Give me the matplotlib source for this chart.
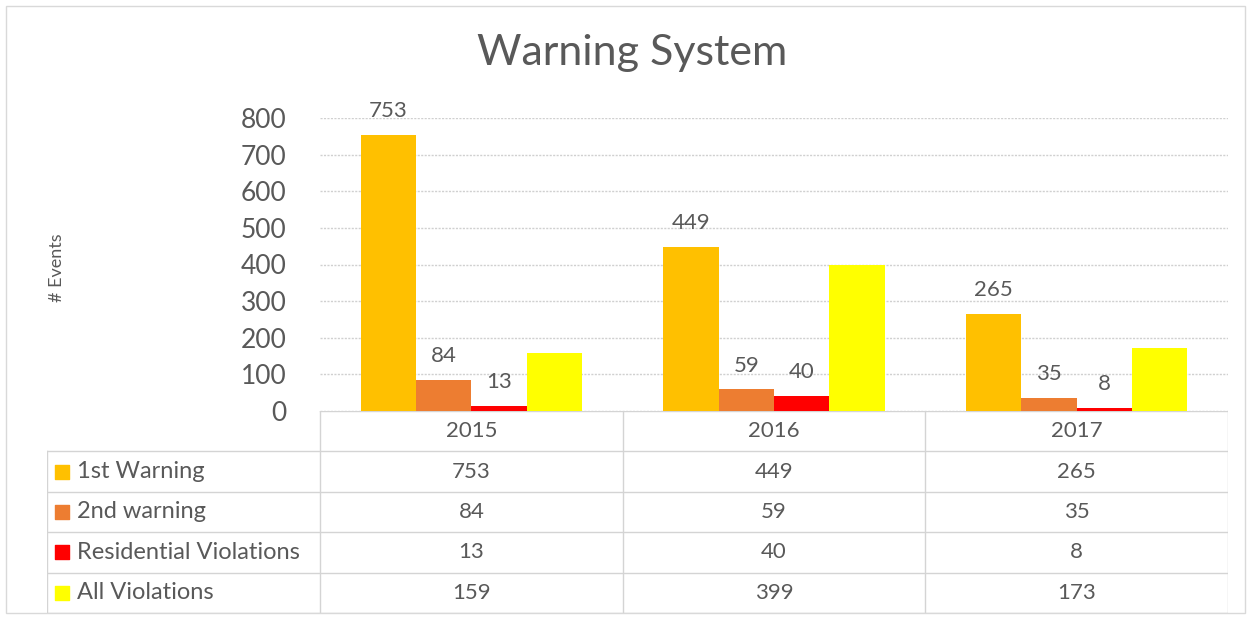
import numpy as np
import matplotlib.pyplot as plt

plt.rcParams['font.family'] = ['Lato', 'DejaVu Sans']

years = ['2015', '2016', '2017']
series_names = ['1st Warning', '2nd warning', 'Residential Violations', 'All Violations']
first_warning = [753, 449, 265]
second_warning = [84, 59, 35]
residential = [13, 40, 8]
all_violations = [159, 399, 173]
colors = ['#FFC000', '#ED7D31', '#FF0000', '#FFFF00']
show_labels = [True, True, True, False]

values = [first_warning, second_warning, residential, all_violations]
txt = '#595959'
grid_c = '#d0d0d0'

W, H = 1250, 620
fig = plt.figure(figsize=(12.5, 6.2), dpi=100)

# outer border
fig.patches.append(plt.Rectangle((6 / W, 1 - 613 / H), 1239 / W, 607 / H, transform=fig.transFigure,
                                 fill=False, edgecolor='#d9d9d9', lw=1))

ax = fig.add_axes([320 / W, 1 - 411 / H, 908 / W, 293 / H])
x = np.arange(len(years)) + 0.5
bw = 0.183
for k, (vals, col) in enumerate(zip(values, colors)):
    pos = x + (k - 1.5) * bw
    bars = ax.bar(pos, vals, width=bw, color=col, zorder=3)
    if show_labels[k]:
        for b, v in zip(bars, vals):
            ax.annotate(str(v), (b.get_x() + b.get_width() / 2, v), xytext=(0, 10),
                        textcoords='offset points', ha='center', va='bottom',
                        fontsize=16, color=txt, annotation_clip=False)

ax.set_xlim(0, 3)
ax.set_ylim(0, 800)
ax.set_yticks(range(0, 801, 100))
ax.tick_params(axis='y', length=0, pad=24, labelsize=19, labelcolor=txt)
ax.set_xticks([])
ax.grid(axis='y', color=grid_c, lw=1, ls=(0, (1.5, 1)), zorder=0)
for s in ax.spines.values():
    s.set_visible(False)

fig.text(632 / W, 1 - 53 / H, 'Warning System', ha='center', va='center', fontsize=31, color=txt)
fig.text(57 / W, 1 - 268 / H, '# Events', rotation=90, ha='center', va='center',
         fontsize=13, color=txt)

# data table
tax = fig.add_axes([47 / W, 1 - 613 / H, 1181 / W, 202 / H])
lab_w = 273 / (1181 - 273) * 3
tax.set_xlim(-lab_w, 3)
tax.set_ylim(5, 0)
tax.axis('off')
lc = '#d4d4d4'
tax.plot([0, 3], [0, 0], color=lc, lw=1)
for i in range(4):
    tax.plot([i, i], [0, 5], color=lc, lw=1)
tax.plot([-lab_w, -lab_w], [1, 5], color=lc, lw=1)
for r in range(1, 6):
    tax.plot([-lab_w, 3], [r, r], color=lc, lw=1)
for i, yr in enumerate(years):
    tax.text(i + 0.5, 0.5, yr, ha='center', va='center', fontsize=16, color=txt)
for r, (name, vals, col) in enumerate(zip(series_names, values, colors)):
    yc = r + 1.5
    tax.scatter([-lab_w + 0.05], [yc], marker='s', s=110, color=col, clip_on=False)
    tax.text(-lab_w + 0.1, yc, name, ha='left', va='center', fontsize=17, color=txt)
    for i, v in enumerate(vals):
        tax.text(i + 0.5, yc, str(v), ha='center', va='center', fontsize=16, color=txt)

fig.savefig('out.png', dpi=100)
